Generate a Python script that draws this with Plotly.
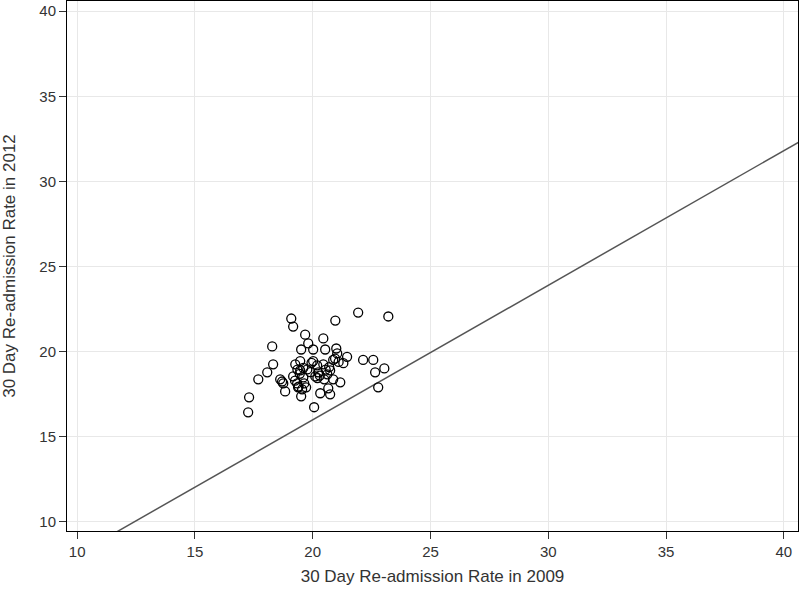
import plotly.graph_objects as go

# 30-day readmission rate (2009 vs 2012)
rate_2009 = [19.09, 19.17, 20.96, 21.93, 23.21, 19.68, 20.45, 18.28, 19.51, 19.81,
             20.02, 20.53, 21.00, 21.04, 21.46, 20.87, 21.30, 22.14, 22.57, 18.32,
             18.07, 17.69, 19.26, 19.47, 20.02, 20.19, 20.45, 19.47, 19.77, 20.23,
             20.74, 20.62, 22.65, 23.04, 19.17, 19.60, 20.11, 20.49, 20.87, 21.17,
             18.62, 18.75, 18.83, 19.38, 19.55, 19.72, 19.34, 19.64, 20.32, 20.66,
             20.74, 19.51, 22.78, 17.30, 17.26, 20.06, 19.35, 19.45, 19.90, 20.70,
             20.95, 19.25, 19.60, 20.30, 18.70, 19.95, 19.40, 20.20, 20.55, 21.10]
rate_2012 = [21.95, 21.48, 21.83, 22.30, 22.07, 21.00, 20.78, 20.31, 20.13, 20.49,
             20.13, 20.13, 20.19, 19.90, 19.70, 19.52, 19.33, 19.52, 19.52, 19.26,
             18.79, 18.38, 19.26, 19.45, 19.45, 19.20, 19.26, 18.90, 18.96, 18.79,
             18.90, 18.67, 18.79, 19.02, 18.55, 18.49, 18.55, 18.38, 18.38, 18.20,
             18.38, 18.14, 17.67, 17.91, 17.79, 17.91, 18.14, 18.14, 17.56, 17.85,
             17.50, 17.38, 17.91, 17.32, 16.44, 16.74, 18.95, 18.70, 18.80, 19.10,
             19.60, 18.30, 19.05, 18.60, 18.25, 19.35, 17.95, 18.45, 18.95, 19.40]

# reference line endpoints
line_x = [9.0, 41.0]
line_y = [7.3, 32.6]

x_ticks = [10, 15, 20, 25, 30, 35, 40]
y_ticks = [10, 15, 20, 25, 30, 35, 40]

fig = go.Figure()
fig.add_trace(go.Scatter(x=line_x, y=line_y, mode="lines",
                         line=dict(color="#555555", width=1.5),
                         showlegend=False, hoverinfo="skip"))
fig.add_trace(go.Scatter(x=rate_2009, y=rate_2012, mode="markers",
                         marker=dict(symbol="circle-open", size=9,
                                     color="#000000", line=dict(width=1.3)),
                         showlegend=False))

tick_font = dict(family="Liberation Sans, Arial, sans-serif", size=15, color="#333333")
title_font = dict(family="Liberation Sans, Arial, sans-serif", size=17, color="#333333")
axis_common = dict(showgrid=True, gridcolor="#e8e8e8", gridwidth=1,
                   showline=True, linecolor="#000000", linewidth=1, mirror=True,
                   ticks="outside", ticklen=7, tickcolor="#333333",
                   zeroline=False, tickfont=tick_font, automargin=False)

fig.update_layout(
    width=800, height=593,
    margin=dict(l=67, r=2, t=1, b=62),
    paper_bgcolor="white", plot_bgcolor="white",
    font=tick_font,
    xaxis=dict(range=[9.57, 40.6], tickvals=x_ticks,
               title=dict(text="30 Day Re-admission Rate in 2009", font=title_font, standoff=11),
               **axis_common),
    yaxis=dict(range=[9.47, 40.6], tickvals=y_ticks,
               title=dict(text="30 Day Re-admission Rate in 2012", font=title_font, standoff=19),
               **axis_common),
)

fig.write_html("out.html", config={"displayModeBar": False},
               post_script="document.body.style.margin='0';document.body.style.overflow='hidden';")
